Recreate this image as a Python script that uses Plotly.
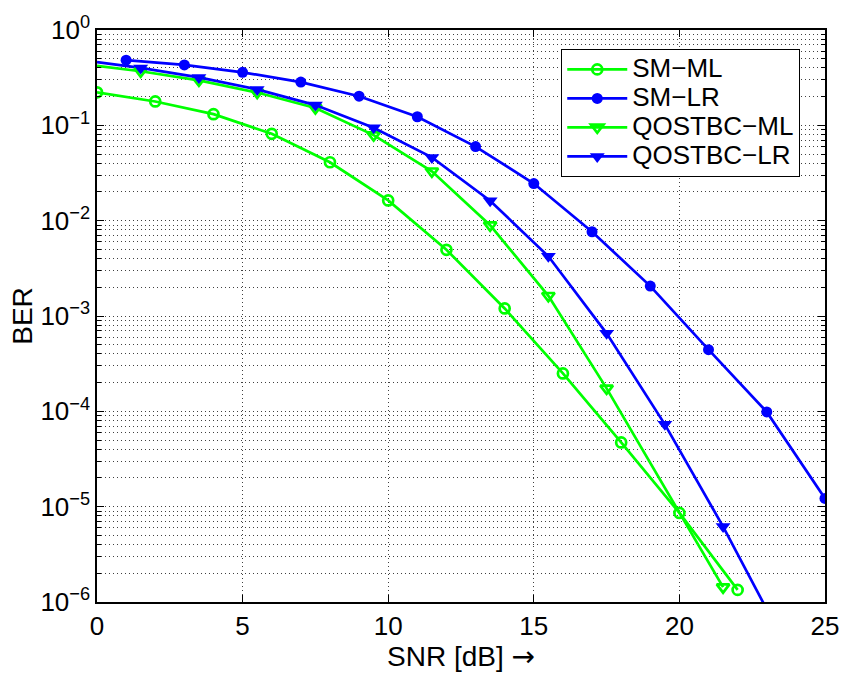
import plotly.graph_objects as go

# ---- data ----
sm_ml_x = [0, 2, 4, 6, 8, 10, 12, 14, 16, 18, 20, 22]
sm_ml_y = [0.222, 0.178, 0.131, 0.0815, 0.041, 0.0163, 0.00495, 0.0012,
           2.5e-4, 4.72e-5, 8.6e-6, 1.34e-6]

sm_lr_x = [1, 3, 5, 7, 9, 11, 13, 15, 17, 19, 21, 23, 25]
sm_lr_y = [0.483, 0.43, 0.36, 0.284, 0.202, 0.123, 0.0599, 0.0245, 0.00765,
           0.00206, 4.43e-4, 9.86e-5, 1.22e-5]

# line start (no marker) at 0 dB
qml_start_x = [0, 1.5]
qml_start_y = [0.42, 0.369]
qml_x = [1.5, 3.5, 5.5, 7.5, 9.5, 11.5, 13.5, 15.5, 17.5, 21.5]
qml_y = [0.369, 0.296, 0.221, 0.152, 0.0789, 0.033, 0.00896, 0.00163, 1.74e-4, 1.43e-6]

qlr_start_x = [0, 1.5]
qlr_start_y = [0.461, 0.40]
qlr_x = [1.5, 3.5, 5.5, 7.5, 9.5, 11.5, 13.5, 15.5, 17.5, 19.5, 21.5, 23.5]
qlr_y = [0.40, 0.318, 0.238, 0.163, 0.0944, 0.0461, 0.0162, 0.00423, 6.58e-4,
         7.3e-5, 6.18e-6, 4.3e-7]

series_names = ["SM\u2212ML", "SM\u2212LR", "QOSTBC\u2212ML", "QOSTBC\u2212LR"]

x_ticks = [0, 5, 10, 15, 20, 25]
y_exps = [0, -1, -2, -3, -4, -5, -6]

GREEN = "#00ff00"
BLUE = "#0000ff"
LW = 2.7
FONT = "Liberation Sans, Arial, sans-serif"
FS = 26
TFS = 28


def leg(name):
    return "<span style='font-size:26px'>%s</span>" % name


fig = go.Figure()

# start segments (line only)
fig.add_trace(go.Scatter(x=qml_start_x, y=qml_start_y, mode="lines",
                         line=dict(color=GREEN, width=LW), showlegend=False,
                         hoverinfo="skip"))
fig.add_trace(go.Scatter(x=qlr_start_x, y=qlr_start_y, mode="lines",
                         line=dict(color=BLUE, width=LW), showlegend=False,
                         hoverinfo="skip"))

fig.add_trace(go.Scatter(
    x=sm_ml_x, y=sm_ml_y, mode="lines+markers", name=leg(series_names[0]),
    line=dict(color=GREEN, width=LW),
    marker=dict(symbol="circle-open", size=10, color=GREEN, line=dict(width=2.7, color=GREEN))))
fig.add_trace(go.Scatter(
    x=sm_lr_x, y=sm_lr_y, mode="lines+markers", name=leg(series_names[1]),
    line=dict(color=BLUE, width=LW),
    marker=dict(symbol="circle", size=11, color=BLUE)))
fig.add_trace(go.Scatter(
    x=qml_x, y=qml_y, mode="lines+markers", name=leg(series_names[2]),
    line=dict(color=GREEN, width=LW),
    marker=dict(symbol="triangle-down-open", size=11, color=GREEN, line=dict(width=2.7, color=GREEN))))
fig.add_trace(go.Scatter(
    x=qlr_x, y=qlr_y, mode="lines+markers", name=leg(series_names[3]),
    line=dict(color=BLUE, width=LW),
    marker=dict(symbol="triangle-down", size=13, color=BLUE)))

y_tickvals = [10.0 ** e for e in y_exps]
y_ticktext = ["10<sup>%s</sup>" % (str(e).replace("-", "\u2212")) for e in y_exps]
minor_vals = [k * 10.0 ** p for p in range(-6, 0) for k in range(2, 10)]

GRIDC = "rgba(0,0,0,0.75)"
DASH = "1px,3px"

fig.update_xaxes(
    range=[0, 25], tickvals=x_ticks, ticks="inside", ticklen=7, tickcolor="black",
    showline=True, linecolor="black", linewidth=1.5, mirror="allticks",
    showgrid=True, gridcolor=GRIDC, griddash=DASH, gridwidth=1,
    zeroline=False,
    tickfont=dict(size=FS, color="black", family=FONT),
    title=dict(text="SNR [dB] <span style='font-family:DejaVu Sans'>\u2192</span>",
               font=dict(size=TFS, color="black", family=FONT), standoff=0),
)
fig.update_yaxes(
    type="log", range=[-6, 0], tickmode="array", tickvals=y_tickvals, ticktext=y_ticktext,
    ticks="inside", ticklen=7, tickcolor="black",
    showline=True, linecolor="black", linewidth=1.5, mirror="allticks",
    showgrid=True, gridcolor=GRIDC, griddash=DASH, gridwidth=1,
    minor=dict(tickmode="array", tickvals=minor_vals, ticks="inside", ticklen=4,
               tickcolor="black", showgrid=True, gridcolor=GRIDC, griddash=DASH, gridwidth=1),
    zeroline=False,
    tickfont=dict(size=FS, color="black", family=FONT),
    title=dict(text="BER", font=dict(size=TFS, color="black", family=FONT), standoff=0),
)

fig.update_layout(
    width=851, height=673,
    margin=dict(l=97, r=17, t=25, b=66),
    plot_bgcolor="white", paper_bgcolor="white",
    font=dict(family=FONT, color="black", size=FS),
    legend=dict(x=0.966, xanchor="right", y=0.967, yanchor="top",
                bgcolor="white", bordercolor="black", borderwidth=1,
                font=dict(size=20, family=FONT, color="black"),
                tracegroupgap=0, itemwidth=60),
    showlegend=True,
)

fig.write_html("out.html")
